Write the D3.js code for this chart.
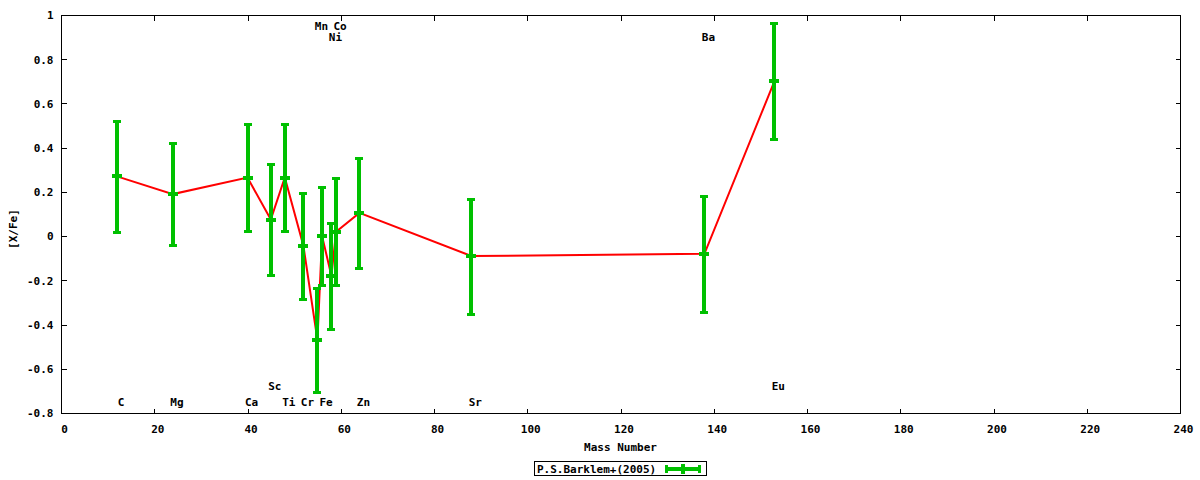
<!DOCTYPE html>
<html><head><meta charset="utf-8">
<script src="https://cdn.jsdelivr.net/npm/d3@7"></script>
<style>
html,body{margin:0;padding:0;background:#fff;}
text{font-family:"DejaVu Sans Mono","Liberation Mono",monospace;font-weight:bold;font-size:11px;fill:#000;}
</style></head>
<body><svg id="chart" width="1200" height="480"></svg>
<script>
// ---- data ----
const masses   = [12, 24, 40, 45, 48, 52, 55, 56, 58, 59, 64, 88, 138, 153];
const elements = ["C","Mg","Ca","Sc","Ti","Cr","Mn","Fe","Ni","Co","Zn","Sr","Ba","Eu"];
const values   = [0.27, 0.19, 0.265, 0.075, 0.265, -0.045, -0.47, 0.0, -0.18, 0.02, 0.105, -0.09, -0.08, 0.70];
const errors   = [0.25, 0.232, 0.24, 0.253, 0.24, 0.24, 0.235, 0.222, 0.24, 0.243, 0.25, 0.26, 0.262, 0.262];
const labelY   = [-0.75,-0.75,-0.75,-0.68,-0.75,-0.75,0.95,-0.75,0.9,0.95,-0.75,-0.75,0.9,-0.68];
const xTicks = d3.range(0, 241, 20);
const yTicks = [-0.8,-0.6,-0.4,-0.2,0,0.2,0.4,0.6,0.8,1];
const seriesName = "P.S.Barklem+(2005)";

const svg = d3.select("#chart");
const L = 61, R = 1180, T = 15, B = 413;
const x = d3.scaleLinear().domain([0, 240]).range([L, R]);
const y = d3.scaleLinear().domain([-0.8, 1]).range([B, T]);
const fmt = d => String(Math.round(d * 10) / 10);

// frame
svg.append("rect").attr("x", L + 0.5).attr("y", T + 0.5).attr("width", R - L).attr("height", B - T)
  .attr("fill", "none").attr("stroke", "#000").attr("stroke-width", 1).attr("shape-rendering", "crispEdges");

// axes with mirrored ticks
const tk = 5;
const gx = svg.append("g").attr("transform", `translate(0,${B + 0.5})`)
  .call(d3.axisBottom(x).tickValues(xTicks).tickSizeInner(-tk).tickSizeOuter(0).tickPadding(10).tickFormat(d3.format("d")));
gx.select(".domain").remove();
gx.selectAll("text").attr("dx", 3).attr("dy", "0.9em");
const gxt = svg.append("g").attr("transform", `translate(0,${T + 0.5})`)
  .call(d3.axisTop(x).tickValues(xTicks).tickSizeInner(-tk).tickSizeOuter(0).tickFormat(""));
gxt.select(".domain").remove();
const gy = svg.append("g").attr("transform", `translate(${L + 0.5},0)`)
  .call(d3.axisLeft(y).tickValues(yTicks).tickSizeInner(-tk).tickSizeOuter(0).tickPadding(8).tickFormat(fmt));
gy.select(".domain").remove();
gy.selectAll("text").attr("dy", "0.35em");
const gyr = svg.append("g").attr("transform", `translate(${R + 0.5},0)`)
  .call(d3.axisRight(y).tickValues(yTicks).tickSizeInner(-tk).tickSizeOuter(0).tickFormat(""));
gyr.select(".domain").remove();
svg.selectAll(".tick line").attr("stroke", "#000").attr("shape-rendering", "crispEdges");
svg.selectAll(".tick text").style("font-family", "'DejaVu Sans Mono',monospace").style("font-weight", "bold").style("font-size", "11px");

// axis titles
svg.append("text").attr("x", x(120)).attr("y", 451).attr("text-anchor", "middle").text("Mass Number");
svg.append("text").attr("transform", `translate(17,${y(0.1) + 15}) rotate(-90)`).attr("text-anchor", "middle").text("[X/Fe]");

// data
const data = masses.map((m, i) => ({m, el: elements[i], v: values[i], e: errors[i], ly: labelY[i]}));

// red connecting line
svg.append("path").datum(data)
  .attr("d", d3.line().x(d => x(d.m)).y(d => y(d.v)))
  .attr("fill", "none").attr("stroke", "#ff0000").attr("stroke-width", 2);

// error bars
const green = "#00c000";
const eb = svg.append("g").attr("shape-rendering", "crispEdges").attr("fill", green);
data.forEach(d => {
  const cx = Math.round(x(d.m));
  const yt = Math.round(y(d.v + d.e)), yb = Math.round(y(d.v - d.e)), yc = Math.round(y(d.v));
  eb.append("rect").attr("x", cx - 2).attr("y", yt).attr("width", 4).attr("height", yb - yt);
  eb.append("rect").attr("x", cx - 4).attr("y", yt - 1).attr("width", 8).attr("height", 3);
  eb.append("rect").attr("x", cx - 4).attr("y", yb - 1).attr("width", 8).attr("height", 3);
  eb.append("rect").attr("x", cx - 5).attr("y", yc - 2).attr("width", 10).attr("height", 4);
});

// element labels
svg.append("g").selectAll("text").data(data).join("text")
  .attr("x", d => x(d.m) + 4).attr("y", d => y(d.ly)).attr("dy", "0.35em")
  .attr("text-anchor", "middle").text(d => d.el);

// legend
const lg = svg.append("g");
lg.append("rect").attr("x", 534.5).attr("y", 461.5).attr("width", 172).attr("height", 14)
  .attr("fill", "none").attr("stroke", "#000").attr("shape-rendering", "crispEdges");
lg.append("text").attr("x", 537).attr("y", 469).attr("dy", "0.35em").text(seriesName);
const lgg = lg.append("g").attr("fill", green).attr("shape-rendering", "crispEdges");
lgg.append("rect").attr("x", 665).attr("y", 467).attr("width", 36).attr("height", 4);
lgg.append("rect").attr("x", 665).attr("y", 465).attr("width", 3).attr("height", 8);
lgg.append("rect").attr("x", 698).attr("y", 465).attr("width", 3).attr("height", 8);
lgg.append("rect").attr("x", 681).attr("y", 464).attr("width", 4).attr("height", 10);
</script></body></html>
